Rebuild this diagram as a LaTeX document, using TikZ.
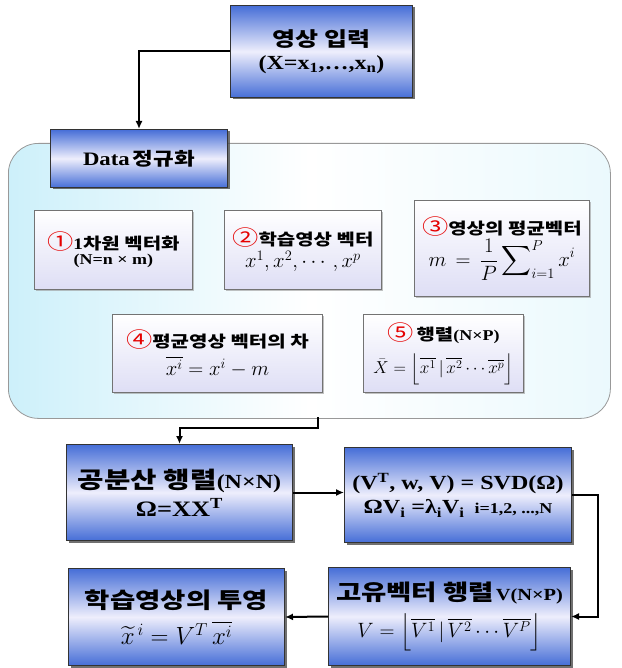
\documentclass[tikz,border=0pt]{standalone}
\usepackage{fontspec}
\usepackage{amsmath}
\setmainfont{Liberation Serif}[FakeStretch=1.2]
\newfontfamily\kr{Noto Sans CJK KR}[FakeStretch=1.25]
\usetikzlibrary{shadows,arrows.meta,calc}
\definecolor{boxblue}{RGB}{70,110,215}
\definecolor{boxmid}{RGB}{238,238,252}
\definecolor{lav}{RGB}{222,222,245}
\definecolor{cyanbg}{RGB}{205,240,250}
\newcommand{\cn}[1]{{\kr\color{red!90!black}#1}}
\newcommand{\fs}[1]{\fontsize{#1pt}{\dimexpr #1pt*5/4\relax}\selectfont}
\tikzset{
  bluebox/.style={draw=black!80, line width=1pt, top color=boxblue, bottom color=boxblue, middle color=boxmid,
    drop shadow={shadow xshift=2pt, shadow yshift=-2pt, fill=black!70, opacity=0.8},
    anchor=north west, inner sep=1pt, align=center},
  whitebox/.style={draw=black!55, line width=0.8pt, top color=white, bottom color=lav,
    drop shadow={shadow xshift=1.5pt, shadow yshift=-1.5pt, fill=black!40, opacity=0.6},
    anchor=north west, inner sep=1pt, align=center},
  conn/.style={line width=2pt, -{Latex[length=8pt,width=7pt]}}
}
\begin{document}
\begin{tikzpicture}[x=1pt,y=-1pt]
\useasboundingbox (0,0) rectangle (621,668);
% big rounded background
\node[draw=black!40, line width=0.8pt, rounded corners=30pt, anchor=north west,
  left color=cyanbg, right color=cyanbg!40, middle color=white,
  minimum width=602pt, minimum height=275pt, inner sep=0pt] (norm) at (8,143) {};
% top
\node[bluebox, minimum width=182pt, minimum height=92pt] (in) at (230,5)
  {{\kr\bfseries\fs{20}영상 입력}\\[6pt]{\bfseries\fs{20}(X=x\textsubscript{1},\dots,x\textsubscript{n})}};
\node[bluebox, minimum width=177pt, minimum height=58pt] (data) at (50,129)
  {{\bfseries\fs{19}Data} {\kr\bfseries\fs{18}정규화}};
% inner boxes
\node[whitebox, minimum width=158pt, minimum height=79pt] (s1) at (34,210)
  {\cn{\fs{21}①}{\bfseries\fs{16}1}{\kr\bfseries\fs{16}차원 벡터화}\\[2pt]{\bfseries\fs{15}(N=n × m)}};
\node[whitebox, minimum width=157pt, minimum height=79pt] (s2) at (224,210)
  {\cn{\fs{21}②}{\kr\bfseries\fs{16}학습영상 벡터}\\[2pt]{\fs{21}$x^1, x^2, \cdots, x^p$}};
\node[whitebox, minimum width=175pt, minimum height=96pt] (s3) at (414,200)
  {\cn{\fs{21}③}{\kr\bfseries\fs{16}영상의 평균벡터}\\[2pt]{\fs{22}$\displaystyle m \,=\, \frac{1}{P}\sum\nolimits_{i=1}^{P} x^{i}$}};
\node[whitebox, minimum width=210pt, minimum height=78pt] (s4) at (112,314)
  {\cn{\fs{21}④}{\kr\bfseries\fs{16}평균영상 벡터의 차}\\[6pt]{\fs{21}$\overline{x^i} = x^i - m$}};
\node[whitebox, minimum width=160pt, minimum height=78pt] (s5) at (363,314)
  {\cn{\fs{21}⑤}\ {\kr\bfseries\fs{16}행렬}{\bfseries\fs{15}(N×P)}\\[9pt]{\fs{17}$\bar X = \left\lfloor\overline{x^1}\,|\,\overline{x^2}\cdots\overline{x^p}\right\rfloor$}};
% lower boxes
\node[bluebox, minimum width=226pt, minimum height=96pt] (cov) at (66,444)
  {{\kr\bfseries\fs{23}공분산 행렬}{\bfseries\fs{20}(N×N)}\\[5pt]{\bfseries\fs{22}Ω=XX\textsuperscript{T}}};
\node[bluebox, minimum width=227pt, minimum height=95pt] (svd) at (344,447)
  {{\bfseries\fs{20}(V\textsuperscript{T}, w, V) = SVD(Ω)}\\[5pt]{\bfseries\fs{20}ΩV\textsubscript{i} =λ\textsubscript{i}V\textsubscript{i}}\quad{\bfseries\fs{15}i=1,2, ...,N}};
\node[bluebox, minimum width=242pt, minimum height=98pt] (eig) at (328,567)
  {{\kr\bfseries\fs{22}고유벡터 행렬}\,{\bfseries\fs{17}V(N×P)}\\[9pt]{\fs{20}$V = \left\lfloor\overline{V^1}\,|\,\overline{V^2}\cdots\overline{V^P}\right\rfloor$}};
\node[bluebox, minimum width=216pt, minimum height=97pt] (proj) at (68,568)
  {{\kr\bfseries\fs{22}학습영상의 투영}\\[10pt]{\fs{27}$\widetilde{x}^{\,i} = V^T\,\overline{x^i}$}};
% connectors
\coordinate (c1) at (318,417);
\coordinate (c2) at (318,428);
\coordinate (c3) at (598,495);
\draw[conn] (in.west) -| (data.north);
\draw[conn] (c1) -- (c2) -| (cov.north);
\draw[conn] (cov.east) -- (cov.east -| svd.west);
\draw[conn] (svd.east |- c3) -- (c3) |- (eig.east);
\draw[conn] (eig.west) -- (proj.east);
\end{tikzpicture}
\end{document}
